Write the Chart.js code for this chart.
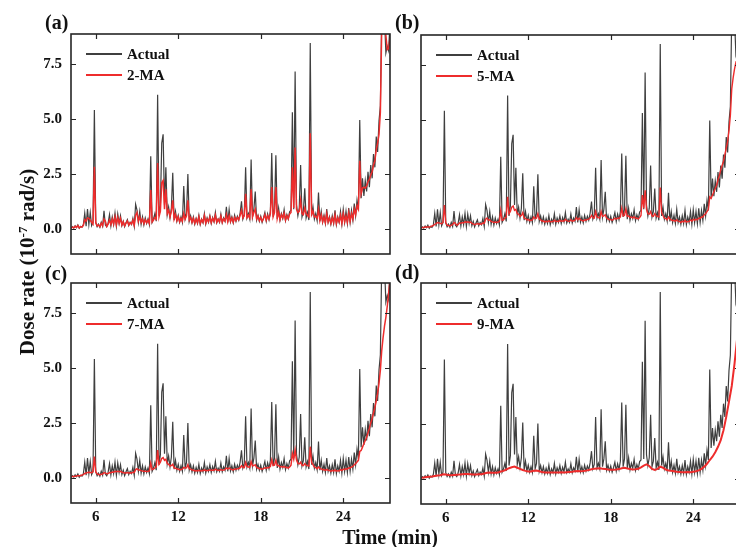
<!DOCTYPE html>
<html>
<head>
<meta charset="utf-8">
<script src="https://cdn.jsdelivr.net/npm/chart.js@4.4.1/dist/chart.umd.min.js"></script>
<style>
    html, body { margin: 0; padding: 0; background: #fff; width: 736px; height: 547px; overflow: hidden; }
    #wrap { position: relative; width: 736px; height: 547px; overflow: hidden; font-family: 'Liberation Serif', 'DejaVu Serif', serif; font-weight: bold; color: #111; }
    #wrap canvas { position: absolute; }
    .tag { position: absolute; font-size: 20px; line-height: 20px; }
    #ytitle { position: absolute; left: -103px; top: 250px; width: 260px; height: 24px; line-height: 24px; text-align: center; font-size: 21px; transform: rotate(-90deg); white-space: nowrap; }
    #ytitle sup { font-size: 13px; vertical-align: 7px; line-height: 0; }
    #xtitle { position: absolute; left: 290px; top: 525px; width: 200px; text-align: center; font-size: 20px; line-height: 24px; }
</style>
</head>
<body>
<div id="wrap">
    <canvas id="pa" width="400" height="262" style="left:0;top:0"></canvas>
    <canvas id="pb" width="400" height="262" style="left:350px;top:0"></canvas>
    <canvas id="pc" width="400" height="290" style="left:0;top:250px"></canvas>
    <canvas id="pd" width="400" height="290" style="left:350px;top:250px"></canvas>
    <div class="tag" style="left:45px;top:12px">(a)</div>
    <div class="tag" style="left:395px;top:12px">(b)</div>
    <div class="tag" style="left:45px;top:263px">(c)</div>
    <div class="tag" style="left:395px;top:262px">(d)</div>
    <div id="ytitle">Dose rate (10<sup>-7</sup> rad/s)</div>
    <div id="xtitle">Time (min)</div>
</div>
<script>
// time axis (min), sampled every 0.1 min
const timeMin = [
    4.2, 4.3, 4.4, 4.5, 4.6, 4.7, 4.8, 4.9, 5.0, 5.1,
    5.2, 5.3, 5.4, 5.5, 5.6, 5.7, 5.8, 5.9, 6.0, 6.1,
    6.2, 6.3, 6.4, 6.5, 6.6, 6.7, 6.8, 6.9, 7.0, 7.1,
    7.2, 7.3, 7.4, 7.5, 7.6, 7.7, 7.8, 7.9, 8.0, 8.1,
    8.2, 8.3, 8.4, 8.5, 8.6, 8.7, 8.8, 8.9, 9.0, 9.1,
    9.2, 9.3, 9.4, 9.5, 9.6, 9.7, 9.8, 9.9, 10.0, 10.1,
    10.2, 10.3, 10.4, 10.5, 10.6, 10.7, 10.8, 10.9, 11.0, 11.1,
    11.2, 11.3, 11.4, 11.5, 11.6, 11.7, 11.8, 11.9, 12.0, 12.1,
    12.2, 12.3, 12.4, 12.5, 12.6, 12.7, 12.8, 12.9, 13.0, 13.1,
    13.2, 13.3, 13.4, 13.5, 13.6, 13.7, 13.8, 13.9, 14.0, 14.1,
    14.2, 14.3, 14.4, 14.5, 14.6, 14.7, 14.8, 14.9, 15.0, 15.1,
    15.2, 15.3, 15.4, 15.5, 15.6, 15.7, 15.8, 15.9, 16.0, 16.1,
    16.2, 16.3, 16.4, 16.5, 16.6, 16.7, 16.8, 16.9, 17.0, 17.1,
    17.2, 17.3, 17.4, 17.5, 17.6, 17.7, 17.8, 17.9, 18.0, 18.1,
    18.2, 18.3, 18.4, 18.5, 18.6, 18.7, 18.8, 18.9, 19.0, 19.1,
    19.2, 19.3, 19.4, 19.5, 19.6, 19.7, 19.8, 19.9, 20.0, 20.1,
    20.2, 20.3, 20.4, 20.5, 20.6, 20.7, 20.8, 20.9, 21.0, 21.1,
    21.2, 21.3, 21.4, 21.5, 21.6, 21.7, 21.8, 21.9, 22.0, 22.1,
    22.2, 22.3, 22.4, 22.5, 22.6, 22.7, 22.8, 22.9, 23.0, 23.1,
    23.2, 23.3, 23.4, 23.5, 23.6, 23.7, 23.8, 23.9, 24.0, 24.1,
    24.2, 24.3, 24.4, 24.5, 24.6, 24.7, 24.8, 24.9, 25.0, 25.1,
    25.2, 25.3, 25.4, 25.5, 25.6, 25.7, 25.8, 25.9, 26.0, 26.1,
    26.2, 26.3, 26.4, 26.5, 26.6, 26.7, 26.8, 26.9, 27.0, 27.1,
    27.2, 27.3, 27.4
];

// measured dose rate (1e-7 rad/s)
const actual = [
    0.02, 0.10, 0.04, 0.14, 0.06, 0.18, 0.03, 0.12, 0.08, 0.20,
    0.72, 0.12, 0.90, 0.20, 0.75, 0.15, 0.30, 5.40, 0.28, 0.10,
    0.22, 0.08, 0.30, 0.12, 0.82, 0.18, 0.10, 0.26, 0.65, 0.14,
    0.55, 0.20, 0.72, 0.12, 0.68, 0.25, 0.60, 0.15, 0.35, 0.10,
    0.28, 0.42, 0.15, 0.30, 0.20, 0.48, 0.12, 1.12, 0.85, 0.30,
    0.80, 0.22, 0.55, 0.18, 0.50, 0.25, 0.45, 0.20, 3.30, 0.30,
    0.45, 0.70, 0.35, 6.10, 0.60, 1.05, 3.90, 4.30, 1.10, 2.80,
    0.65, 1.00, 0.50, 0.95, 2.55, 0.40, 0.80, 0.35, 0.62, 0.30,
    0.55, 0.30, 1.95, 0.45, 0.70, 2.50, 0.35, 0.60, 0.28, 0.55,
    0.22, 0.48, 0.25, 0.62, 0.20, 0.45, 0.28, 0.70, 0.22, 0.50,
    0.30, 0.60, 0.25, 0.52, 0.32, 0.75, 0.28, 0.45, 0.30, 0.68,
    0.28, 0.50, 0.35, 1.00, 0.30, 0.88, 0.32, 0.55, 0.28, 0.62,
    0.35, 0.58, 0.40, 0.72, 1.25, 0.45, 0.65, 2.80, 0.50, 0.70,
    0.45, 3.15, 0.55, 0.90, 1.70, 0.40, 0.62, 0.35, 0.58, 0.30,
    0.50, 0.75, 0.35, 0.68, 0.42, 0.80, 3.45, 0.55, 0.90, 3.35,
    0.45, 0.95, 0.40, 0.70, 0.48, 0.88, 0.38, 0.65, 0.45, 0.78,
    0.85, 5.30, 0.90, 7.15, 1.10, 0.60, 0.95, 2.90, 0.55, 0.80,
    1.85, 0.50, 0.75, 0.40, 8.45, 0.60, 1.00, 0.45, 0.70, 0.38,
    1.65, 0.35, 0.80, 0.30, 0.62, 0.25, 0.90, 0.30, 0.55, 0.22,
    0.60, 0.25, 0.85, 0.20, 0.55, 0.30, 0.80, 0.22, 0.88, 0.30,
    0.80, 0.25, 0.95, 0.30, 0.85, 0.40, 1.15, 0.60, 1.30, 0.85,
    4.95, 1.40, 2.30, 1.50, 2.20, 1.70, 2.60, 1.90, 2.90, 2.30,
    3.40, 2.80, 4.20, 3.50, 4.90, 5.60, 9.80, 9.00, 9.60, 8.00,
    8.30, 8.10, 9.40
];

const ma2 = [
    0.03, 0.08, 0.05, 0.12, 0.07, 0.15, 0.05, 0.10, 0.09, 0.16,
    0.42, 0.35, 0.50, 0.48, 0.40, 0.30, 0.22, 2.83, 0.30, 0.14,
    0.18, 0.10, 0.26, 0.14, 0.45, 0.35, 0.12, 0.22, 0.40, 0.20,
    0.45, 0.22, 0.55, 0.18, 0.52, 0.26, 0.48, 0.18, 0.32, 0.14,
    0.26, 0.36, 0.18, 0.28, 0.22, 0.40, 0.16, 0.62, 0.75, 0.35,
    0.55, 0.30, 0.45, 0.24, 0.42, 0.28, 0.40, 0.25, 1.77, 0.32,
    0.40, 0.52, 0.45, 3.00, 0.55, 0.80, 2.10, 2.20, 0.90, 1.80,
    0.70, 0.85, 0.55, 0.80, 1.30, 0.45, 0.65, 0.38, 0.55, 0.32,
    0.48, 0.35, 0.70, 0.45, 0.60, 1.30, 0.40, 0.52, 0.30, 0.48,
    0.25, 0.45, 0.28, 0.55, 0.24, 0.42, 0.30, 0.60, 0.26, 0.45,
    0.32, 0.55, 0.28, 0.48, 0.34, 0.62, 0.30, 0.44, 0.32, 0.58,
    0.30, 0.46, 0.36, 0.65, 0.32, 0.60, 0.34, 0.50, 0.30, 0.52,
    0.38, 0.52, 0.42, 0.62, 0.85, 0.50, 0.60, 1.60, 0.52, 0.62,
    0.50, 1.80, 0.55, 0.75, 0.90, 0.45, 0.58, 0.38, 0.52, 0.35,
    0.46, 0.65, 0.40, 0.60, 0.45, 0.70, 1.90, 0.55, 0.75, 1.90,
    0.48, 0.75, 0.42, 0.65, 0.50, 0.72, 0.40, 0.60, 0.46, 0.68,
    0.75, 2.80, 0.95, 3.70, 0.90, 0.75, 0.80, 1.30, 0.70, 0.65,
    0.95, 0.70, 0.62, 0.55, 4.35, 0.65, 0.80, 0.55, 0.58, 0.48,
    0.90, 0.38, 0.65, 0.32, 0.55, 0.28, 0.70, 0.32, 0.50, 0.25,
    0.50, 0.28, 0.65, 0.24, 0.50, 0.32, 0.62, 0.25, 0.70, 0.32,
    0.60, 0.30, 0.75, 0.35, 0.70, 0.45, 0.90, 0.65, 1.05, 0.90,
    3.10, 1.60, 1.85, 1.90, 1.85, 1.95, 2.15, 2.25, 2.45, 2.60,
    2.90, 3.10, 3.60, 3.90, 4.30, 5.30, 9.20, 9.40, 9.30, 8.80,
    8.15, 8.20, 8.70
];

const ma5 = [
    0.05, 0.07, 0.07, 0.09, 0.09, 0.10, 0.09, 0.11, 0.14, 0.16,
    0.22, 0.25, 0.30, 0.28, 0.26, 0.24, 0.30, 1.10, 0.30, 0.18,
    0.16, 0.14, 0.18, 0.20, 0.30, 0.26, 0.18, 0.20, 0.28, 0.26,
    0.30, 0.28, 0.34, 0.30, 0.33, 0.30, 0.32, 0.26, 0.24, 0.20,
    0.22, 0.25, 0.22, 0.24, 0.22, 0.28, 0.26, 0.45, 0.50, 0.40,
    0.42, 0.35, 0.33, 0.30, 0.32, 0.30, 0.32, 0.34, 0.85, 0.40,
    0.42, 0.50, 0.55, 1.47, 0.70, 0.80, 1.00, 1.05, 0.85, 0.90,
    0.70, 0.68, 0.58, 0.62, 0.75, 0.50, 0.48, 0.42, 0.44, 0.38,
    0.40, 0.42, 0.55, 0.48, 0.50, 0.70, 0.45, 0.42, 0.36, 0.38,
    0.32, 0.36, 0.33, 0.38, 0.32, 0.35, 0.34, 0.40, 0.34, 0.36,
    0.34, 0.40, 0.35, 0.38, 0.36, 0.44, 0.38, 0.36, 0.35, 0.42,
    0.36, 0.38, 0.40, 0.52, 0.42, 0.50, 0.42, 0.40, 0.36, 0.42,
    0.40, 0.44, 0.45, 0.50, 0.62, 0.52, 0.50, 0.80, 0.55, 0.52,
    0.50, 0.80, 0.58, 0.60, 0.65, 0.50, 0.46, 0.42, 0.44, 0.40,
    0.44, 0.50, 0.45, 0.50, 0.48, 0.55, 0.95, 0.60, 0.62, 0.92,
    0.58, 0.60, 0.52, 0.55, 0.50, 0.56, 0.48, 0.50, 0.46, 0.52,
    0.62, 1.55, 0.95, 1.77, 0.90, 0.70, 0.68, 0.80, 0.60, 0.58,
    0.70, 0.60, 0.58, 0.55, 1.90, 0.75, 0.62, 0.50, 0.48, 0.42,
    0.55, 0.45, 0.42, 0.38, 0.40, 0.35, 0.42, 0.36, 0.35, 0.30,
    0.36, 0.32, 0.40, 0.32, 0.35, 0.34, 0.42, 0.36, 0.45, 0.40,
    0.45, 0.42, 0.50, 0.48, 0.55, 0.55, 0.65, 0.70, 0.80, 0.90,
    1.47, 1.40, 1.55, 1.70, 1.85, 2.00, 2.25, 2.45, 2.70, 2.90,
    3.10, 3.40, 3.70, 4.00, 4.50, 5.20, 6.40, 6.90, 7.30, 7.60,
    7.50, 7.90, 8.30
];

const ma7 = [
    0.06, 0.07, 0.07, 0.08, 0.09, 0.10, 0.10, 0.11, 0.13, 0.15,
    0.20, 0.22, 0.25, 0.26, 0.25, 0.24, 0.28, 0.97, 0.28, 0.18,
    0.16, 0.15, 0.17, 0.18, 0.24, 0.22, 0.19, 0.20, 0.25, 0.24,
    0.27, 0.26, 0.30, 0.28, 0.30, 0.28, 0.30, 0.26, 0.24, 0.22,
    0.22, 0.24, 0.22, 0.23, 0.22, 0.26, 0.25, 0.38, 0.42, 0.36,
    0.36, 0.33, 0.31, 0.30, 0.30, 0.29, 0.30, 0.32, 0.68, 0.38,
    0.40, 0.45, 0.50, 1.27, 0.62, 0.72, 0.88, 0.92, 0.80, 0.85,
    0.66, 0.62, 0.55, 0.56, 0.62, 0.46, 0.44, 0.40, 0.40, 0.36,
    0.38, 0.40, 0.48, 0.45, 0.46, 0.60, 0.42, 0.40, 0.36, 0.36,
    0.32, 0.34, 0.32, 0.35, 0.32, 0.34, 0.33, 0.37, 0.33, 0.34,
    0.34, 0.37, 0.34, 0.36, 0.35, 0.40, 0.36, 0.35, 0.34, 0.38,
    0.35, 0.36, 0.38, 0.45, 0.40, 0.45, 0.40, 0.38, 0.36, 0.40,
    0.39, 0.42, 0.43, 0.46, 0.55, 0.48, 0.47, 0.70, 0.52, 0.50,
    0.48, 0.74, 0.55, 0.56, 0.60, 0.48, 0.45, 0.42, 0.42, 0.40,
    0.42, 0.46, 0.44, 0.47, 0.46, 0.52, 0.82, 0.56, 0.58, 0.80,
    0.56, 0.56, 0.50, 0.52, 0.49, 0.52, 0.47, 0.48, 0.45, 0.50,
    0.58, 1.10, 0.85, 1.27, 0.82, 0.66, 0.64, 0.72, 0.58, 0.56,
    0.65, 0.58, 0.56, 0.54, 1.42, 0.70, 0.60, 0.50, 0.47, 0.42,
    0.50, 0.43, 0.41, 0.37, 0.38, 0.34, 0.39, 0.35, 0.34, 0.30,
    0.34, 0.31, 0.36, 0.31, 0.33, 0.32, 0.38, 0.34, 0.40, 0.38,
    0.42, 0.40, 0.46, 0.45, 0.50, 0.52, 0.60, 0.65, 0.72, 0.80,
    1.20, 1.25, 1.40, 1.55, 1.70, 1.85, 2.05, 2.25, 2.50, 2.70,
    2.95, 3.20, 3.50, 3.85, 4.30, 4.90, 5.80, 6.40, 6.90, 7.30,
    7.80, 8.40, 9.00
];

// 9-MA read on a 0.2 min grid (every other time sample)
const ma9 = [
    0.05, 0.06, 0.08, 0.09, 0.10,
    0.13, 0.15, 0.16, 0.20, 0.19,
    0.17, 0.16, 0.17, 0.18, 0.19,
    0.21, 0.22, 0.22, 0.21, 0.20,
    0.20, 0.21, 0.21, 0.24, 0.27,
    0.28, 0.27, 0.27, 0.28, 0.33,
    0.36, 0.42, 0.48, 0.52, 0.55,
    0.50, 0.45, 0.40, 0.36, 0.33,
    0.33, 0.36, 0.37, 0.34, 0.31,
    0.29, 0.28, 0.28, 0.29, 0.28,
    0.29, 0.30, 0.29, 0.30, 0.31,
    0.32, 0.34, 0.35, 0.34, 0.35,
    0.37, 0.40, 0.43, 0.46, 0.47,
    0.48, 0.46, 0.44, 0.42, 0.41,
    0.41, 0.42, 0.44, 0.48, 0.50,
    0.47, 0.44, 0.42, 0.43, 0.45,
    0.52, 0.60, 0.65, 0.58, 0.45,
    0.40, 0.45, 0.55, 0.50, 0.42,
    0.38, 0.36, 0.34, 0.32, 0.31,
    0.30, 0.30, 0.31, 0.30, 0.32,
    0.34, 0.38, 0.45, 0.55, 0.68,
    0.85, 1.00, 1.20, 1.45, 1.75,
    2.20, 2.80, 3.50, 4.20, 5.20,
    6.40, 7.60
];
const timeCoarse = timeMin.filter((t, i) => i % 2 === 0);

const xTicks = [6, 12, 18, 24];
const yTicks = [0, 2.5, 5.0, 7.5];
const yTickLabels = ['0.0', '2.5', '5.0', '7.5'];

const FONT = "'Liberation Serif', 'DejaVu Serif', serif";
const GRAY = '#3f3f3f';
const RED = '#ee2c2c';

const toPoints = (xs, ys) => xs.map((t, i) => ({ x: t, y: ys[i] }));

// box, inward ticks on all four sides, and the legend inside the box
const frameLegend = {
    id: 'frameLegend',
    afterDatasetsDraw(chart) {
        const { ctx, chartArea: a, scales: { x, y } } = chart;
        ctx.save();
        ctx.strokeStyle = '#262626';
        ctx.lineWidth = 1.2;
        ctx.beginPath();
        xTicks.forEach(v => {
            const px = Math.round(x.getPixelForValue(v)) + 0.5;
            ctx.moveTo(px, a.bottom); ctx.lineTo(px, a.bottom - 5);
            ctx.moveTo(px, a.top); ctx.lineTo(px, a.top + 5);
        });
        yTicks.forEach(v => {
            const py = Math.round(y.getPixelForValue(v)) + 0.5;
            ctx.moveTo(a.left, py); ctx.lineTo(a.left + 5, py);
            ctx.moveTo(a.right, py); ctx.lineTo(a.right - 5, py);
        });
        ctx.stroke();
        ctx.lineWidth = 1.6;
        ctx.strokeRect(a.left, a.top, a.right - a.left, a.bottom - a.top);

        ctx.font = `bold 15px ${FONT}`;
        ctx.textBaseline = 'middle';
        ctx.fillStyle = '#111';
        chart.data.datasets.forEach((ds, i) => {
            const ly = a.top + 20 + i * 21;
            ctx.strokeStyle = ds.borderColor;
            ctx.lineWidth = 1.8;
            ctx.beginPath();
            ctx.moveTo(a.left + 15, ly);
            ctx.lineTo(a.left + 51, ly);
            ctx.stroke();
            ctx.fillText(ds.label, a.left + 56, ly + 1);
        });
        ctx.restore();
    }
};

function makePanel(id, maLabel, maTimes, maValues, opt) {
    const ctx = document.getElementById(id).getContext('2d');
    return new Chart(ctx, {
        type: 'line',
        data: {
            datasets: [
                {
                    label: 'Actual',
                    data: toPoints(timeMin, actual),
                    borderColor: GRAY,
                    borderWidth: 1.2,
                    pointRadius: 0,
                    tension: 0,
                    order: 2
                },
                {
                    label: maLabel,
                    data: toPoints(maTimes, maValues),
                    borderColor: RED,
                    borderWidth: opt.maWidth,
                    pointRadius: 0,
                    tension: 0,
                    order: 1
                }
            ]
        },
        options: {
            responsive: false,
            devicePixelRatio: 1,
            animation: false,
            events: [],
            layout: { padding: { top: opt.top, right: 10, left: 0, bottom: 0 } },
            plugins: { legend: { display: false }, tooltip: { enabled: false } },
            scales: {
                x: {
                    type: 'linear',
                    min: 4.2,
                    max: 27.4,
                    afterBuildTicks: s => { s.ticks = xTicks.map(v => ({ value: v })); },
                    afterFit: s => {
                        s.height = opt.xHeight;
                        s.paddingLeft = 0; s.paddingRight = 0;
                    },
                    grid: { display: false, drawTicks: false },
                    border: { display: false },
                    ticks: {
                        display: opt.showX,
                        padding: 5,
                        autoSkip: false,
                        maxRotation: 0,
                        color: '#111',
                        font: { family: FONT, size: 15, weight: 'bold' },
                        callback: v => String(v)
                    }
                },
                y: {
                    type: 'linear',
                    min: -1.14,
                    max: 8.86,
                    afterBuildTicks: s => { s.ticks = yTicks.map(v => ({ value: v })); },
                    afterFit: s => {
                        s.width = 71;
                        s.paddingTop = 0; s.paddingBottom = 0;
                    },
                    grid: { display: false, drawTicks: false },
                    border: { display: false },
                    ticks: {
                        display: opt.showY,
                        padding: 9,
                        color: '#111',
                        font: { family: FONT, size: 15, weight: 'bold' },
                        callback: v => yTickLabels[yTicks.indexOf(v)]
                    }
                }
            }
        },
        plugins: [frameLegend]
    });
}

makePanel('pa', '2-MA', timeMin, ma2, { top: 34, xHeight: 8, showX: false, showY: true, maWidth: 1.5 });
makePanel('pb', '5-MA', timeMin, ma5, { top: 35, xHeight: 8, showX: false, showY: false, maWidth: 1.4 });
makePanel('pc', '7-MA', timeMin, ma7, { top: 33, xHeight: 37, showX: true, showY: true, maWidth: 1.5 });
makePanel('pd', '9-MA', timeCoarse, ma9, { top: 33, xHeight: 36, showX: true, showY: false, maWidth: 2 });
</script>
</body>
</html>
